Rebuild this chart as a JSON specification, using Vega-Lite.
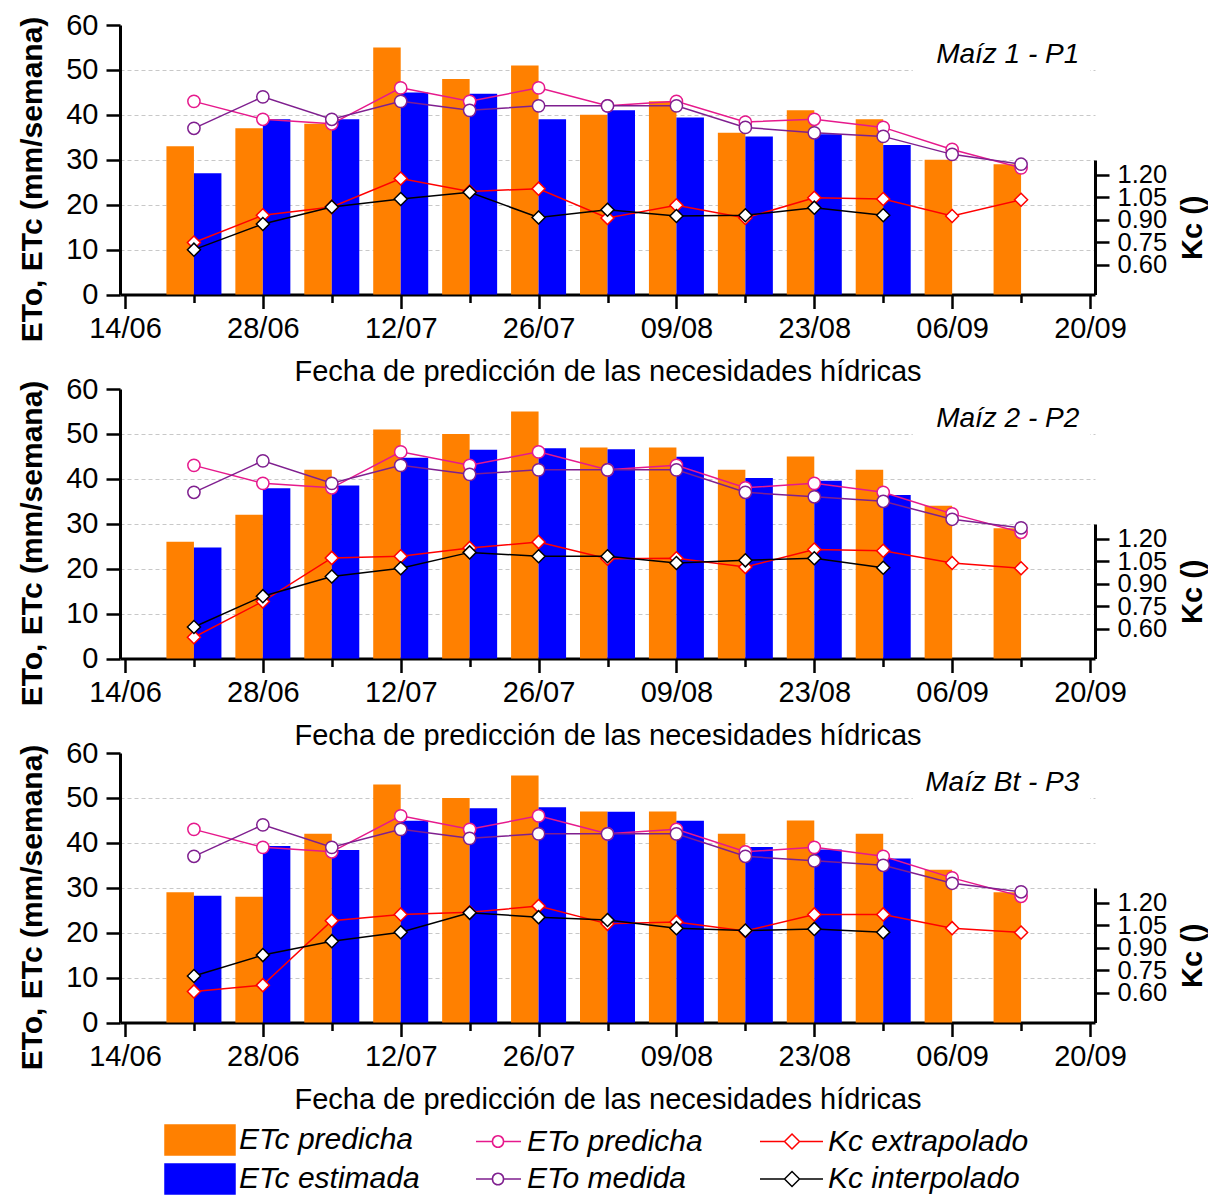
{
  "$schema": "https://vega.github.io/schema/vega-lite/v6.json",
  "background": "white",
  "padding": {"left": 17, "top": 11, "right": 0, "bottom": 0},
  "bounds": "flush",
  "spacing": 94,
  "config": {
    "view": {"stroke": null},
    "font": "Liberation Sans",
    "axis": {
      "labelFont": "Liberation Sans", "labelFontSize": 29, "labelColor": "black",
      "titleFont": "Liberation Sans", "titleFontSize": 29, "titleColor": "black", "titleFontWeight": "normal",
      "domainColor": "black", "domainWidth": 3, "tickColor": "black", "tickWidth": 2.5,
      "gridColor": "#c8c8c8", "gridDash": [4, 3], "gridWidth": 1, "labelFlush": false, "labelOverlap": false, "zindex": 1
    }
  },
  "datasets": {
    "etiquetas": [
      {"p": 1, "texto": "Maíz 1 - P1"},
      {"p": 2, "texto": "Maíz 2 - P2"},
      {"p": 3, "texto": "Maíz Bt - P3"}
    ],
    "d": [
      {"p": 1, "fecha": "2011-06-21", "etcp": 33, "etce": 27, "etop": 43, "etom": 37, "kce": 0.748, "kci": 0.700},
      {"p": 1, "fecha": "2011-06-28", "etcp": 37, "etce": 39, "etop": 39, "etom": 44, "kce": 0.930, "kci": 0.872},
      {"p": 1, "fecha": "2011-07-05", "etcp": 38, "etce": 39, "etop": 38, "etom": 39, "kce": 0.986, "kci": 0.986},
      {"p": 1, "fecha": "2011-07-12", "etcp": 55, "etce": 45, "etop": 46, "etom": 43, "kce": 1.176, "kci": 1.039},
      {"p": 1, "fecha": "2011-07-19", "etcp": 48, "etce": 44.7, "etop": 43, "etom": 41, "kce": 1.089, "kci": 1.084},
      {"p": 1, "fecha": "2011-07-26", "etcp": 51, "etce": 39, "etop": 46, "etom": 42, "kce": 1.108, "kci": 0.915},
      {"p": 1, "fecha": "2011-08-02", "etcp": 40, "etce": 41, "etop": 42, "etom": 42, "kce": 0.912, "kci": 0.967},
      {"p": 1, "fecha": "2011-08-09", "etcp": 43, "etce": 39.4, "etop": 43, "etom": 42, "kce": 0.997, "kci": 0.925},
      {"p": 1, "fecha": "2011-08-16", "etcp": 36, "etce": 35.2, "etop": 38.4, "etom": 37.2, "kce": 0.912, "kci": 0.930},
      {"p": 1, "fecha": "2011-08-23", "etcp": 41, "etce": 35.7, "etop": 39, "etom": 36, "kce": 1.047, "kci": 0.981},
      {"p": 1, "fecha": "2011-08-30", "etcp": 39, "etce": 33.3, "etop": 37.2, "etom": 35.2, "kce": 1.039, "kci": 0.930},
      {"p": 1, "fecha": "2011-09-06", "etcp": 30, "etce": null, "etop": 32.3, "etom": 31.2, "kce": 0.925, "kci": null},
      {"p": 1, "fecha": "2011-09-13", "etcp": 29, "etce": null, "etop": 28.2, "etom": 29, "kce": 1.034, "kci": null},
      {"p": 2, "fecha": "2011-06-21", "etcp": 26, "etce": 24.7, "etop": 43, "etom": 37, "kce": 0.542, "kci": 0.611},
      {"p": 2, "fecha": "2011-06-28", "etcp": 32, "etce": 37.9, "etop": 39, "etom": 44, "kce": 0.782, "kci": 0.817},
      {"p": 2, "fecha": "2011-07-05", "etcp": 42, "etce": 38.5, "etop": 38, "etom": 39, "kce": 1.073, "kci": 0.949},
      {"p": 2, "fecha": "2011-07-12", "etcp": 51, "etce": 44.7, "etop": 46, "etom": 43, "kce": 1.084, "kci": 1.004},
      {"p": 2, "fecha": "2011-07-19", "etcp": 50, "etce": 46.5, "etop": 43, "etom": 41, "kce": 1.139, "kci": 1.110},
      {"p": 2, "fecha": "2011-07-26", "etcp": 55, "etce": 46.8, "etop": 46, "etom": 42, "kce": 1.179, "kci": 1.084},
      {"p": 2, "fecha": "2011-08-02", "etcp": 47, "etce": 46.6, "etop": 42, "etom": 42, "kce": 1.068, "kci": 1.084},
      {"p": 2, "fecha": "2011-08-09", "etcp": 47, "etce": 44.9, "etop": 43, "etom": 42, "kce": 1.071, "kci": 1.039},
      {"p": 2, "fecha": "2011-08-16", "etcp": 42, "etce": 40.2, "etop": 38, "etom": 37, "kce": 1.012, "kci": 1.057},
      {"p": 2, "fecha": "2011-08-23", "etcp": 45, "etce": 39.6, "etop": 39, "etom": 36, "kce": 1.129, "kci": 1.071},
      {"p": 2, "fecha": "2011-08-30", "etcp": 42, "etce": 36.4, "etop": 37, "etom": 35, "kce": 1.121, "kci": 1.007},
      {"p": 2, "fecha": "2011-09-06", "etcp": 34, "etce": null, "etop": 32.2, "etom": 31, "kce": 1.039, "kci": null},
      {"p": 2, "fecha": "2011-09-13", "etcp": 29, "etce": null, "etop": 28.1, "etom": 29.1, "kce": 1.004, "kci": null},
      {"p": 3, "fecha": "2011-06-21", "etcp": 29, "etce": 28.2, "etop": 43, "etom": 37, "kce": 0.608, "kci": 0.711},
      {"p": 3, "fecha": "2011-06-28", "etcp": 28, "etce": 39.3, "etop": 39, "etom": 44, "kce": 0.650, "kci": 0.851},
      {"p": 3, "fecha": "2011-07-05", "etcp": 42, "etce": 38.4, "etop": 38, "etom": 39, "kce": 1.081, "kci": 0.944},
      {"p": 3, "fecha": "2011-07-12", "etcp": 53, "etce": 44.9, "etop": 46, "etom": 43, "kce": 1.123, "kci": 1.004},
      {"p": 3, "fecha": "2011-07-19", "etcp": 50, "etce": 47.7, "etop": 43, "etom": 41, "kce": 1.137, "kci": 1.134},
      {"p": 3, "fecha": "2011-07-26", "etcp": 55, "etce": 47.9, "etop": 46, "etom": 42, "kce": 1.179, "kci": 1.105},
      {"p": 3, "fecha": "2011-08-02", "etcp": 47, "etce": 46.9, "etop": 42, "etom": 42, "kce": 1.060, "kci": 1.086},
      {"p": 3, "fecha": "2011-08-09", "etcp": 47, "etce": 44.9, "etop": 43, "etom": 42, "kce": 1.073, "kci": 1.031},
      {"p": 3, "fecha": "2011-08-16", "etcp": 42, "etce": 39.1, "etop": 38, "etom": 37, "kce": 1.012, "kci": 1.015},
      {"p": 3, "fecha": "2011-08-23", "etcp": 45, "etce": 38.5, "etop": 39, "etom": 36, "kce": 1.123, "kci": 1.026},
      {"p": 3, "fecha": "2011-08-30", "etcp": 42, "etce": 36.5, "etop": 37, "etom": 35, "kce": 1.123, "kci": 1.004},
      {"p": 3, "fecha": "2011-09-06", "etcp": 34, "etce": null, "etop": 32.2, "etom": 31, "kce": 1.031, "kci": null},
      {"p": 3, "fecha": "2011-09-13", "etcp": 29, "etce": null, "etop": 28.1, "etom": 29.1, "kce": 1.002, "kci": null}
    ]
  },
  "vconcat": [
    {
      "width": 975, "height": 269.5,
      "layer": [
        {"layer": [
          {"data": {"name": "d"}, "transform": [{"filter": "datum.p == 1"}],
           "layer": [
            {"mark": {"type": "bar", "width": 27.5, "xOffset": -13.75, "fill": "#ff8000", "strokeWidth": 0},
             "encoding": {
               "x": {"field": "fecha", "type": "temporal", "title": "Fecha de predicción de las necesidades hídricas",
                     "scale": {"type": "utc", "domain": [{"year": 2011, "month": 6, "date": 14, "utc": true}, {"year": 2011, "month": 9, "date": 20, "utc": true}]},
                     "axis": {"values": [{"year": 2011, "month": 6, "date": 14, "utc": true}, {"year": 2011, "month": 6, "date": 21, "utc": true}, {"year": 2011, "month": 6, "date": 28, "utc": true}, {"year": 2011, "month": 7, "date": 5, "utc": true}, {"year": 2011, "month": 7, "date": 12, "utc": true}, {"year": 2011, "month": 7, "date": 19, "utc": true}, {"year": 2011, "month": 7, "date": 26, "utc": true}, {"year": 2011, "month": 8, "date": 2, "utc": true}, {"year": 2011, "month": 8, "date": 9, "utc": true}, {"year": 2011, "month": 8, "date": 16, "utc": true}, {"year": 2011, "month": 8, "date": 23, "utc": true}, {"year": 2011, "month": 8, "date": 30, "utc": true}, {"year": 2011, "month": 9, "date": 6, "utc": true}, {"year": 2011, "month": 9, "date": 13, "utc": true}, {"year": 2011, "month": 9, "date": 20, "utc": true}],
                              "labelExpr": "round((datum.value - utc(2011,5,14)) / 604800000) % 2 == 0 ? utcFormat(datum.value, '%d/%m') : ''",
                              "tickSize": {"condition": {"test": "round((datum.value - utc(2011,5,14)) / 604800000) % 2 == 0", "value": 14}, "value": 8},
                              "grid": false, "labelOverlap": false, "labelPadding": 6, "titlePadding": 14}},
               "y": {"field": "etcp", "type": "quantitative", "scale": {"domain": [0, 60]},
                     "axis": {"values": [0, 5, 10, 15, 20, 25, 30, 35, 40, 45, 50, 55, 60],
                              "labelExpr": "datum.value % 10 == 0 ? datum.label : ''",
                              "tickSize": {"condition": {"test": "datum.value % 10 == 0", "value": 14}, "value": 8},
                              "grid": true, "gridOpacity": {"condition": {"test": "datum.value == 60 || datum.value == 0", "value": 0}, "value": 1},
                              "labelOverlap": false, "title": "ETo, ETc (mm/semana)", "titleFontWeight": "bold", "titleFontSize": 30, "titlePadding": 18, "titleY": 154, "labelPadding": 8}},
               "stroke": {"datum": "ETc predicha", "type": "nominal",
                         "scale": {"domain": ["ETc predicha", "ETo predicha", "Kc extrapolado", "ETc estimada", "ETo medida", "Kc interpolado"], "range": ["#ff8000", "#e6198c", "#ff0000", "#0000ff", "#7f1f8f", "#000000"]},
                         "legend": {"title": null, "orient": "none", "legendX": 84, "legendY": 1099, "columns": 3, "direction": "horizontal", "symbolSize": 900, "symbolStrokeWidth": 1.5, "labelFont": "Liberation Sans", "labelFontSize": 30, "labelFontStyle": "italic", "labelColor": "black", "labelLimit": 500, "labelOffset": 3, "columnPadding": 53, "rowPadding": 3, "padding": 0, "encode": {"symbols": {"update": {"shape": {"signal": "indexof(['ETc predicha','ETc estimada'], datum.value) >= 0 ? 'M-3.667,-1L1,-1L1,1L-3.667,1Z' : indexof(['ETo predicha','ETo medida'], datum.value) >= 0 ? 'M-2.133,0L-1.033,0M-0.3,0L0.867,0M-1.033,0A0.367,0.367 0 1,1 -0.3,0A0.367,0.367 0 1,1 -1.033,0Z' : 'M-3.267,0L-1.633,0M-0.633,0L0.933,0M-1.633,0L-1.133,-0.5L-0.633,0L-1.133,0.5Z'"}, "fill": {"signal": "datum.value == 'ETc predicha' ? '#ff8000' : datum.value == 'ETc estimada' ? '#0000ff' : 'white'"}, "strokeWidth": {"value": 1.5}, "opacity": {"value": 1}, "fillOpacity": {"value": 1}, "strokeOpacity": {"value": 1}}}}}}
             }},
            {"mark": {"type": "bar", "width": 27.5, "xOffset": 13.75, "fill": "#0000ff", "strokeWidth": 0},
             "encoding": {"x": {"field": "fecha", "type": "temporal"}, "y": {"field": "etce", "type": "quantitative"},
                          "stroke": {"datum": "ETc estimada", "type": "nominal", "legend": {"title": null, "orient": "none", "legendX": 84, "legendY": 1099, "columns": 3, "direction": "horizontal", "symbolSize": 900, "symbolStrokeWidth": 1.5, "labelFont": "Liberation Sans", "labelFontSize": 30, "labelFontStyle": "italic", "labelColor": "black", "labelLimit": 500, "labelOffset": 3, "columnPadding": 53, "rowPadding": 3, "padding": 0, "encode": {"symbols": {"update": {"shape": {"signal": "indexof(['ETc predicha','ETc estimada'], datum.value) >= 0 ? 'M-3.667,-1L1,-1L1,1L-3.667,1Z' : indexof(['ETo predicha','ETo medida'], datum.value) >= 0 ? 'M-2.133,0L-1.033,0M-0.3,0L0.867,0M-1.033,0A0.367,0.367 0 1,1 -0.3,0A0.367,0.367 0 1,1 -1.033,0Z' : 'M-3.267,0L-1.633,0M-0.633,0L0.933,0M-1.633,0L-1.133,-0.5L-0.633,0L-1.133,0.5Z'"}, "fill": {"signal": "datum.value == 'ETc predicha' ? '#ff8000' : datum.value == 'ETc estimada' ? '#0000ff' : 'white'"}, "strokeWidth": {"value": 1.5}, "opacity": {"value": 1}, "fillOpacity": {"value": 1}, "strokeOpacity": {"value": 1}}}}}}}},
            {"mark": {"type": "line", "strokeWidth": 1.5, "point": {"filled": false, "fill": "white", "size": 150, "strokeWidth": 1.5}},
             "encoding": {"x": {"field": "fecha", "type": "temporal"}, "y": {"field": "etop", "type": "quantitative"},
                          "stroke": {"datum": "ETo predicha", "type": "nominal", "legend": {"title": null, "orient": "none", "legendX": 84, "legendY": 1099, "columns": 3, "direction": "horizontal", "symbolSize": 900, "symbolStrokeWidth": 1.5, "labelFont": "Liberation Sans", "labelFontSize": 30, "labelFontStyle": "italic", "labelColor": "black", "labelLimit": 500, "labelOffset": 3, "columnPadding": 53, "rowPadding": 3, "padding": 0, "encode": {"symbols": {"update": {"shape": {"signal": "indexof(['ETc predicha','ETc estimada'], datum.value) >= 0 ? 'M-3.667,-1L1,-1L1,1L-3.667,1Z' : indexof(['ETo predicha','ETo medida'], datum.value) >= 0 ? 'M-2.133,0L-1.033,0M-0.3,0L0.867,0M-1.033,0A0.367,0.367 0 1,1 -0.3,0A0.367,0.367 0 1,1 -1.033,0Z' : 'M-3.267,0L-1.633,0M-0.633,0L0.933,0M-1.633,0L-1.133,-0.5L-0.633,0L-1.133,0.5Z'"}, "fill": {"signal": "datum.value == 'ETc predicha' ? '#ff8000' : datum.value == 'ETc estimada' ? '#0000ff' : 'white'"}, "strokeWidth": {"value": 1.5}, "opacity": {"value": 1}, "fillOpacity": {"value": 1}, "strokeOpacity": {"value": 1}}}}}}}},
            {"mark": {"type": "line", "strokeWidth": 1.5, "point": {"filled": false, "fill": "white", "size": 150, "strokeWidth": 1.5}},
             "encoding": {"x": {"field": "fecha", "type": "temporal"}, "y": {"field": "etom", "type": "quantitative"},
                          "stroke": {"datum": "ETo medida", "type": "nominal", "legend": {"title": null, "orient": "none", "legendX": 84, "legendY": 1099, "columns": 3, "direction": "horizontal", "symbolSize": 900, "symbolStrokeWidth": 1.5, "labelFont": "Liberation Sans", "labelFontSize": 30, "labelFontStyle": "italic", "labelColor": "black", "labelLimit": 500, "labelOffset": 3, "columnPadding": 53, "rowPadding": 3, "padding": 0, "encode": {"symbols": {"update": {"shape": {"signal": "indexof(['ETc predicha','ETc estimada'], datum.value) >= 0 ? 'M-3.667,-1L1,-1L1,1L-3.667,1Z' : indexof(['ETo predicha','ETo medida'], datum.value) >= 0 ? 'M-2.133,0L-1.033,0M-0.3,0L0.867,0M-1.033,0A0.367,0.367 0 1,1 -0.3,0A0.367,0.367 0 1,1 -1.033,0Z' : 'M-3.267,0L-1.633,0M-0.633,0L0.933,0M-1.633,0L-1.133,-0.5L-0.633,0L-1.133,0.5Z'"}, "fill": {"signal": "datum.value == 'ETc predicha' ? '#ff8000' : datum.value == 'ETc estimada' ? '#0000ff' : 'white'"}, "strokeWidth": {"value": 1.5}, "opacity": {"value": 1}, "fillOpacity": {"value": 1}, "strokeOpacity": {"value": 1}}}}}}}}
          ]},
          {"data": {"name": "etiquetas"}, "transform": [{"filter": "datum.p == 1"}],
           "layer": [
            {"mark": {"type": "rect", "fill": "white"},
             "encoding": {"x": {"datum": {"year": 2011, "month": 9, "date": 2, "utc": true}, "type": "temporal"}, "x2": {"datum": {"year": 2011, "month": 9, "date": 20, "utc": true}},
                          "y": {"datum": 46.5, "type": "quantitative"}, "y2": {"datum": 58.5}}},
            {"mark": {"type": "text", "align": "right", "baseline": "middle", "font": "Liberation Sans", "fontSize": 28, "fontStyle": "italic", "color": "black"},
             "encoding": {"x": {"datum": {"year": 2011, "month": 9, "date": 18, "hours": 22, "utc": true}, "type": "temporal"}, "y": {"datum": 53.3, "type": "quantitative"}, "text": {"field": "texto"}}}
          ]}
        ]},
        {"data": {"name": "d"}, "transform": [{"filter": "datum.p == 1"}],
         "layer": [
          {"mark": {"type": "line", "strokeWidth": 1.5, "point": {"shape": "diamond", "filled": false, "fill": "white", "size": 170, "strokeWidth": 1.5}},
           "encoding": {"x": {"field": "fecha", "type": "temporal"},
                        "y": {"field": "kce", "type": "quantitative", "scale": {"domain": [0.46, 1.25], "range": [269.5, 135], "zero": false},
                              "axis": {"orient": "right", "values": [0.6, 0.75, 0.9, 1.05, 1.2], "format": ".2f", "tickSize": 14, "labelFontSize": 25.5,
                                       "labelOverlap": false, "grid": false, "title": "Kc ()", "titleFontWeight": "bold", "titleAngle": 270, "titleBaseline": "top", "titlePadding": 12, "labelPadding": 8}},
                        "stroke": {"datum": "Kc extrapolado", "type": "nominal", "legend": {"title": null, "orient": "none", "legendX": 84, "legendY": 1099, "columns": 3, "direction": "horizontal", "symbolSize": 900, "symbolStrokeWidth": 1.5, "labelFont": "Liberation Sans", "labelFontSize": 30, "labelFontStyle": "italic", "labelColor": "black", "labelLimit": 500, "labelOffset": 3, "columnPadding": 53, "rowPadding": 3, "padding": 0, "encode": {"symbols": {"update": {"shape": {"signal": "indexof(['ETc predicha','ETc estimada'], datum.value) >= 0 ? 'M-3.667,-1L1,-1L1,1L-3.667,1Z' : indexof(['ETo predicha','ETo medida'], datum.value) >= 0 ? 'M-2.133,0L-1.033,0M-0.3,0L0.867,0M-1.033,0A0.367,0.367 0 1,1 -0.3,0A0.367,0.367 0 1,1 -1.033,0Z' : 'M-3.267,0L-1.633,0M-0.633,0L0.933,0M-1.633,0L-1.133,-0.5L-0.633,0L-1.133,0.5Z'"}, "fill": {"signal": "datum.value == 'ETc predicha' ? '#ff8000' : datum.value == 'ETc estimada' ? '#0000ff' : 'white'"}, "strokeWidth": {"value": 1.5}, "opacity": {"value": 1}, "fillOpacity": {"value": 1}, "strokeOpacity": {"value": 1}}}}}}}},
          {"mark": {"type": "line", "strokeWidth": 1.5, "point": {"shape": "diamond", "filled": false, "fill": "white", "size": 170, "strokeWidth": 1.5}},
           "encoding": {"x": {"field": "fecha", "type": "temporal"}, "y": {"field": "kci", "type": "quantitative"},
                        "stroke": {"datum": "Kc interpolado", "type": "nominal", "legend": {"title": null, "orient": "none", "legendX": 84, "legendY": 1099, "columns": 3, "direction": "horizontal", "symbolSize": 900, "symbolStrokeWidth": 1.5, "labelFont": "Liberation Sans", "labelFontSize": 30, "labelFontStyle": "italic", "labelColor": "black", "labelLimit": 500, "labelOffset": 3, "columnPadding": 53, "rowPadding": 3, "padding": 0, "encode": {"symbols": {"update": {"shape": {"signal": "indexof(['ETc predicha','ETc estimada'], datum.value) >= 0 ? 'M-3.667,-1L1,-1L1,1L-3.667,1Z' : indexof(['ETo predicha','ETo medida'], datum.value) >= 0 ? 'M-2.133,0L-1.033,0M-0.3,0L0.867,0M-1.033,0A0.367,0.367 0 1,1 -0.3,0A0.367,0.367 0 1,1 -1.033,0Z' : 'M-3.267,0L-1.633,0M-0.633,0L0.933,0M-1.633,0L-1.133,-0.5L-0.633,0L-1.133,0.5Z'"}, "fill": {"signal": "datum.value == 'ETc predicha' ? '#ff8000' : datum.value == 'ETc estimada' ? '#0000ff' : 'white'"}, "strokeWidth": {"value": 1.5}, "opacity": {"value": 1}, "fillOpacity": {"value": 1}, "strokeOpacity": {"value": 1}}}}}}}}
        ]}
      ],
      "resolve": {"scale": {"y": "independent"}}
    },
    {
      "width": 975, "height": 269.5,
      "layer": [
        {"layer": [
          {"data": {"name": "d"}, "transform": [{"filter": "datum.p == 2"}],
           "layer": [
            {"mark": {"type": "bar", "width": 27.5, "xOffset": -13.75, "fill": "#ff8000", "strokeWidth": 0},
             "encoding": {
               "x": {"field": "fecha", "type": "temporal", "title": "Fecha de predicción de las necesidades hídricas",
                     "scale": {"type": "utc", "domain": [{"year": 2011, "month": 6, "date": 14, "utc": true}, {"year": 2011, "month": 9, "date": 20, "utc": true}]},
                     "axis": {"values": [{"year": 2011, "month": 6, "date": 14, "utc": true}, {"year": 2011, "month": 6, "date": 21, "utc": true}, {"year": 2011, "month": 6, "date": 28, "utc": true}, {"year": 2011, "month": 7, "date": 5, "utc": true}, {"year": 2011, "month": 7, "date": 12, "utc": true}, {"year": 2011, "month": 7, "date": 19, "utc": true}, {"year": 2011, "month": 7, "date": 26, "utc": true}, {"year": 2011, "month": 8, "date": 2, "utc": true}, {"year": 2011, "month": 8, "date": 9, "utc": true}, {"year": 2011, "month": 8, "date": 16, "utc": true}, {"year": 2011, "month": 8, "date": 23, "utc": true}, {"year": 2011, "month": 8, "date": 30, "utc": true}, {"year": 2011, "month": 9, "date": 6, "utc": true}, {"year": 2011, "month": 9, "date": 13, "utc": true}, {"year": 2011, "month": 9, "date": 20, "utc": true}],
                              "labelExpr": "round((datum.value - utc(2011,5,14)) / 604800000) % 2 == 0 ? utcFormat(datum.value, '%d/%m') : ''",
                              "tickSize": {"condition": {"test": "round((datum.value - utc(2011,5,14)) / 604800000) % 2 == 0", "value": 14}, "value": 8},
                              "grid": false, "labelOverlap": false, "labelPadding": 6, "titlePadding": 14}},
               "y": {"field": "etcp", "type": "quantitative", "scale": {"domain": [0, 60]},
                     "axis": {"values": [0, 5, 10, 15, 20, 25, 30, 35, 40, 45, 50, 55, 60],
                              "labelExpr": "datum.value % 10 == 0 ? datum.label : ''",
                              "tickSize": {"condition": {"test": "datum.value % 10 == 0", "value": 14}, "value": 8},
                              "grid": true, "gridOpacity": {"condition": {"test": "datum.value == 60 || datum.value == 0", "value": 0}, "value": 1},
                              "labelOverlap": false, "title": "ETo, ETc (mm/semana)", "titleFontWeight": "bold", "titleFontSize": 30, "titlePadding": 18, "titleY": 154, "labelPadding": 8}},
               "stroke": {"datum": "ETc predicha", "type": "nominal", "legend": {"title": null, "orient": "none", "legendX": 84, "legendY": 1099, "columns": 3, "direction": "horizontal", "symbolSize": 900, "symbolStrokeWidth": 1.5, "labelFont": "Liberation Sans", "labelFontSize": 30, "labelFontStyle": "italic", "labelColor": "black", "labelLimit": 500, "labelOffset": 3, "columnPadding": 53, "rowPadding": 3, "padding": 0, "encode": {"symbols": {"update": {"shape": {"signal": "indexof(['ETc predicha','ETc estimada'], datum.value) >= 0 ? 'M-3.667,-1L1,-1L1,1L-3.667,1Z' : indexof(['ETo predicha','ETo medida'], datum.value) >= 0 ? 'M-2.133,0L-1.033,0M-0.3,0L0.867,0M-1.033,0A0.367,0.367 0 1,1 -0.3,0A0.367,0.367 0 1,1 -1.033,0Z' : 'M-3.267,0L-1.633,0M-0.633,0L0.933,0M-1.633,0L-1.133,-0.5L-0.633,0L-1.133,0.5Z'"}, "fill": {"signal": "datum.value == 'ETc predicha' ? '#ff8000' : datum.value == 'ETc estimada' ? '#0000ff' : 'white'"}, "strokeWidth": {"value": 1.5}, "opacity": {"value": 1}, "fillOpacity": {"value": 1}, "strokeOpacity": {"value": 1}}}}}}
             }},
            {"mark": {"type": "bar", "width": 27.5, "xOffset": 13.75, "fill": "#0000ff", "strokeWidth": 0},
             "encoding": {"x": {"field": "fecha", "type": "temporal"}, "y": {"field": "etce", "type": "quantitative"},
                          "stroke": {"datum": "ETc estimada", "type": "nominal", "legend": {"title": null, "orient": "none", "legendX": 84, "legendY": 1099, "columns": 3, "direction": "horizontal", "symbolSize": 900, "symbolStrokeWidth": 1.5, "labelFont": "Liberation Sans", "labelFontSize": 30, "labelFontStyle": "italic", "labelColor": "black", "labelLimit": 500, "labelOffset": 3, "columnPadding": 53, "rowPadding": 3, "padding": 0, "encode": {"symbols": {"update": {"shape": {"signal": "indexof(['ETc predicha','ETc estimada'], datum.value) >= 0 ? 'M-3.667,-1L1,-1L1,1L-3.667,1Z' : indexof(['ETo predicha','ETo medida'], datum.value) >= 0 ? 'M-2.133,0L-1.033,0M-0.3,0L0.867,0M-1.033,0A0.367,0.367 0 1,1 -0.3,0A0.367,0.367 0 1,1 -1.033,0Z' : 'M-3.267,0L-1.633,0M-0.633,0L0.933,0M-1.633,0L-1.133,-0.5L-0.633,0L-1.133,0.5Z'"}, "fill": {"signal": "datum.value == 'ETc predicha' ? '#ff8000' : datum.value == 'ETc estimada' ? '#0000ff' : 'white'"}, "strokeWidth": {"value": 1.5}, "opacity": {"value": 1}, "fillOpacity": {"value": 1}, "strokeOpacity": {"value": 1}}}}}}}},
            {"mark": {"type": "line", "strokeWidth": 1.5, "point": {"filled": false, "fill": "white", "size": 150, "strokeWidth": 1.5}},
             "encoding": {"x": {"field": "fecha", "type": "temporal"}, "y": {"field": "etop", "type": "quantitative"},
                          "stroke": {"datum": "ETo predicha", "type": "nominal", "legend": {"title": null, "orient": "none", "legendX": 84, "legendY": 1099, "columns": 3, "direction": "horizontal", "symbolSize": 900, "symbolStrokeWidth": 1.5, "labelFont": "Liberation Sans", "labelFontSize": 30, "labelFontStyle": "italic", "labelColor": "black", "labelLimit": 500, "labelOffset": 3, "columnPadding": 53, "rowPadding": 3, "padding": 0, "encode": {"symbols": {"update": {"shape": {"signal": "indexof(['ETc predicha','ETc estimada'], datum.value) >= 0 ? 'M-3.667,-1L1,-1L1,1L-3.667,1Z' : indexof(['ETo predicha','ETo medida'], datum.value) >= 0 ? 'M-2.133,0L-1.033,0M-0.3,0L0.867,0M-1.033,0A0.367,0.367 0 1,1 -0.3,0A0.367,0.367 0 1,1 -1.033,0Z' : 'M-3.267,0L-1.633,0M-0.633,0L0.933,0M-1.633,0L-1.133,-0.5L-0.633,0L-1.133,0.5Z'"}, "fill": {"signal": "datum.value == 'ETc predicha' ? '#ff8000' : datum.value == 'ETc estimada' ? '#0000ff' : 'white'"}, "strokeWidth": {"value": 1.5}, "opacity": {"value": 1}, "fillOpacity": {"value": 1}, "strokeOpacity": {"value": 1}}}}}}}},
            {"mark": {"type": "line", "strokeWidth": 1.5, "point": {"filled": false, "fill": "white", "size": 150, "strokeWidth": 1.5}},
             "encoding": {"x": {"field": "fecha", "type": "temporal"}, "y": {"field": "etom", "type": "quantitative"},
                          "stroke": {"datum": "ETo medida", "type": "nominal", "legend": {"title": null, "orient": "none", "legendX": 84, "legendY": 1099, "columns": 3, "direction": "horizontal", "symbolSize": 900, "symbolStrokeWidth": 1.5, "labelFont": "Liberation Sans", "labelFontSize": 30, "labelFontStyle": "italic", "labelColor": "black", "labelLimit": 500, "labelOffset": 3, "columnPadding": 53, "rowPadding": 3, "padding": 0, "encode": {"symbols": {"update": {"shape": {"signal": "indexof(['ETc predicha','ETc estimada'], datum.value) >= 0 ? 'M-3.667,-1L1,-1L1,1L-3.667,1Z' : indexof(['ETo predicha','ETo medida'], datum.value) >= 0 ? 'M-2.133,0L-1.033,0M-0.3,0L0.867,0M-1.033,0A0.367,0.367 0 1,1 -0.3,0A0.367,0.367 0 1,1 -1.033,0Z' : 'M-3.267,0L-1.633,0M-0.633,0L0.933,0M-1.633,0L-1.133,-0.5L-0.633,0L-1.133,0.5Z'"}, "fill": {"signal": "datum.value == 'ETc predicha' ? '#ff8000' : datum.value == 'ETc estimada' ? '#0000ff' : 'white'"}, "strokeWidth": {"value": 1.5}, "opacity": {"value": 1}, "fillOpacity": {"value": 1}, "strokeOpacity": {"value": 1}}}}}}}}
          ]},
          {"data": {"name": "etiquetas"}, "transform": [{"filter": "datum.p == 2"}],
           "layer": [
            {"mark": {"type": "rect", "fill": "white"},
             "encoding": {"x": {"datum": {"year": 2011, "month": 9, "date": 2, "utc": true}, "type": "temporal"}, "x2": {"datum": {"year": 2011, "month": 9, "date": 20, "utc": true}},
                          "y": {"datum": 46.5, "type": "quantitative"}, "y2": {"datum": 58.5}}},
            {"mark": {"type": "text", "align": "right", "baseline": "middle", "font": "Liberation Sans", "fontSize": 28, "fontStyle": "italic", "color": "black"},
             "encoding": {"x": {"datum": {"year": 2011, "month": 9, "date": 18, "hours": 22, "utc": true}, "type": "temporal"}, "y": {"datum": 53.3, "type": "quantitative"}, "text": {"field": "texto"}}}
          ]}
        ]},
        {"data": {"name": "d"}, "transform": [{"filter": "datum.p == 2"}],
         "layer": [
          {"mark": {"type": "line", "strokeWidth": 1.5, "point": {"shape": "diamond", "filled": false, "fill": "white", "size": 170, "strokeWidth": 1.5}},
           "encoding": {"x": {"field": "fecha", "type": "temporal"},
                        "y": {"field": "kce", "type": "quantitative", "scale": {"domain": [0.46, 1.25], "range": [269.5, 135], "zero": false},
                              "axis": {"orient": "right", "values": [0.6, 0.75, 0.9, 1.05, 1.2], "format": ".2f", "tickSize": 14, "labelFontSize": 25.5,
                                       "labelOverlap": false, "grid": false, "title": "Kc ()", "titleFontWeight": "bold", "titleAngle": 270, "titleBaseline": "top", "titlePadding": 12, "labelPadding": 8}},
                        "stroke": {"datum": "Kc extrapolado", "type": "nominal", "legend": {"title": null, "orient": "none", "legendX": 84, "legendY": 1099, "columns": 3, "direction": "horizontal", "symbolSize": 900, "symbolStrokeWidth": 1.5, "labelFont": "Liberation Sans", "labelFontSize": 30, "labelFontStyle": "italic", "labelColor": "black", "labelLimit": 500, "labelOffset": 3, "columnPadding": 53, "rowPadding": 3, "padding": 0, "encode": {"symbols": {"update": {"shape": {"signal": "indexof(['ETc predicha','ETc estimada'], datum.value) >= 0 ? 'M-3.667,-1L1,-1L1,1L-3.667,1Z' : indexof(['ETo predicha','ETo medida'], datum.value) >= 0 ? 'M-2.133,0L-1.033,0M-0.3,0L0.867,0M-1.033,0A0.367,0.367 0 1,1 -0.3,0A0.367,0.367 0 1,1 -1.033,0Z' : 'M-3.267,0L-1.633,0M-0.633,0L0.933,0M-1.633,0L-1.133,-0.5L-0.633,0L-1.133,0.5Z'"}, "fill": {"signal": "datum.value == 'ETc predicha' ? '#ff8000' : datum.value == 'ETc estimada' ? '#0000ff' : 'white'"}, "strokeWidth": {"value": 1.5}, "opacity": {"value": 1}, "fillOpacity": {"value": 1}, "strokeOpacity": {"value": 1}}}}}}}},
          {"mark": {"type": "line", "strokeWidth": 1.5, "point": {"shape": "diamond", "filled": false, "fill": "white", "size": 170, "strokeWidth": 1.5}},
           "encoding": {"x": {"field": "fecha", "type": "temporal"}, "y": {"field": "kci", "type": "quantitative"},
                        "stroke": {"datum": "Kc interpolado", "type": "nominal", "legend": {"title": null, "orient": "none", "legendX": 84, "legendY": 1099, "columns": 3, "direction": "horizontal", "symbolSize": 900, "symbolStrokeWidth": 1.5, "labelFont": "Liberation Sans", "labelFontSize": 30, "labelFontStyle": "italic", "labelColor": "black", "labelLimit": 500, "labelOffset": 3, "columnPadding": 53, "rowPadding": 3, "padding": 0, "encode": {"symbols": {"update": {"shape": {"signal": "indexof(['ETc predicha','ETc estimada'], datum.value) >= 0 ? 'M-3.667,-1L1,-1L1,1L-3.667,1Z' : indexof(['ETo predicha','ETo medida'], datum.value) >= 0 ? 'M-2.133,0L-1.033,0M-0.3,0L0.867,0M-1.033,0A0.367,0.367 0 1,1 -0.3,0A0.367,0.367 0 1,1 -1.033,0Z' : 'M-3.267,0L-1.633,0M-0.633,0L0.933,0M-1.633,0L-1.133,-0.5L-0.633,0L-1.133,0.5Z'"}, "fill": {"signal": "datum.value == 'ETc predicha' ? '#ff8000' : datum.value == 'ETc estimada' ? '#0000ff' : 'white'"}, "strokeWidth": {"value": 1.5}, "opacity": {"value": 1}, "fillOpacity": {"value": 1}, "strokeOpacity": {"value": 1}}}}}}}}
        ]}
      ],
      "resolve": {"scale": {"y": "independent"}}
    },
    {
      "width": 975, "height": 269.5,
      "layer": [
        {"layer": [
          {"data": {"name": "d"}, "transform": [{"filter": "datum.p == 3"}],
           "layer": [
            {"mark": {"type": "bar", "width": 27.5, "xOffset": -13.75, "fill": "#ff8000", "strokeWidth": 0},
             "encoding": {
               "x": {"field": "fecha", "type": "temporal", "title": "Fecha de predicción de las necesidades hídricas",
                     "scale": {"type": "utc", "domain": [{"year": 2011, "month": 6, "date": 14, "utc": true}, {"year": 2011, "month": 9, "date": 20, "utc": true}]},
                     "axis": {"values": [{"year": 2011, "month": 6, "date": 14, "utc": true}, {"year": 2011, "month": 6, "date": 21, "utc": true}, {"year": 2011, "month": 6, "date": 28, "utc": true}, {"year": 2011, "month": 7, "date": 5, "utc": true}, {"year": 2011, "month": 7, "date": 12, "utc": true}, {"year": 2011, "month": 7, "date": 19, "utc": true}, {"year": 2011, "month": 7, "date": 26, "utc": true}, {"year": 2011, "month": 8, "date": 2, "utc": true}, {"year": 2011, "month": 8, "date": 9, "utc": true}, {"year": 2011, "month": 8, "date": 16, "utc": true}, {"year": 2011, "month": 8, "date": 23, "utc": true}, {"year": 2011, "month": 8, "date": 30, "utc": true}, {"year": 2011, "month": 9, "date": 6, "utc": true}, {"year": 2011, "month": 9, "date": 13, "utc": true}, {"year": 2011, "month": 9, "date": 20, "utc": true}],
                              "labelExpr": "round((datum.value - utc(2011,5,14)) / 604800000) % 2 == 0 ? utcFormat(datum.value, '%d/%m') : ''",
                              "tickSize": {"condition": {"test": "round((datum.value - utc(2011,5,14)) / 604800000) % 2 == 0", "value": 14}, "value": 8},
                              "grid": false, "labelOverlap": false, "labelPadding": 6, "titlePadding": 14}},
               "y": {"field": "etcp", "type": "quantitative", "scale": {"domain": [0, 60]},
                     "axis": {"values": [0, 5, 10, 15, 20, 25, 30, 35, 40, 45, 50, 55, 60],
                              "labelExpr": "datum.value % 10 == 0 ? datum.label : ''",
                              "tickSize": {"condition": {"test": "datum.value % 10 == 0", "value": 14}, "value": 8},
                              "grid": true, "gridOpacity": {"condition": {"test": "datum.value == 60 || datum.value == 0", "value": 0}, "value": 1},
                              "labelOverlap": false, "title": "ETo, ETc (mm/semana)", "titleFontWeight": "bold", "titleFontSize": 30, "titlePadding": 18, "titleY": 154, "labelPadding": 8}},
               "stroke": {"datum": "ETc predicha", "type": "nominal", "legend": {"title": null, "orient": "none", "legendX": 84, "legendY": 1099, "columns": 3, "direction": "horizontal", "symbolSize": 900, "symbolStrokeWidth": 1.5, "labelFont": "Liberation Sans", "labelFontSize": 30, "labelFontStyle": "italic", "labelColor": "black", "labelLimit": 500, "labelOffset": 3, "columnPadding": 53, "rowPadding": 3, "padding": 0, "encode": {"symbols": {"update": {"shape": {"signal": "indexof(['ETc predicha','ETc estimada'], datum.value) >= 0 ? 'M-3.667,-1L1,-1L1,1L-3.667,1Z' : indexof(['ETo predicha','ETo medida'], datum.value) >= 0 ? 'M-2.133,0L-1.033,0M-0.3,0L0.867,0M-1.033,0A0.367,0.367 0 1,1 -0.3,0A0.367,0.367 0 1,1 -1.033,0Z' : 'M-3.267,0L-1.633,0M-0.633,0L0.933,0M-1.633,0L-1.133,-0.5L-0.633,0L-1.133,0.5Z'"}, "fill": {"signal": "datum.value == 'ETc predicha' ? '#ff8000' : datum.value == 'ETc estimada' ? '#0000ff' : 'white'"}, "strokeWidth": {"value": 1.5}, "opacity": {"value": 1}, "fillOpacity": {"value": 1}, "strokeOpacity": {"value": 1}}}}}}
             }},
            {"mark": {"type": "bar", "width": 27.5, "xOffset": 13.75, "fill": "#0000ff", "strokeWidth": 0},
             "encoding": {"x": {"field": "fecha", "type": "temporal"}, "y": {"field": "etce", "type": "quantitative"},
                          "stroke": {"datum": "ETc estimada", "type": "nominal", "legend": {"title": null, "orient": "none", "legendX": 84, "legendY": 1099, "columns": 3, "direction": "horizontal", "symbolSize": 900, "symbolStrokeWidth": 1.5, "labelFont": "Liberation Sans", "labelFontSize": 30, "labelFontStyle": "italic", "labelColor": "black", "labelLimit": 500, "labelOffset": 3, "columnPadding": 53, "rowPadding": 3, "padding": 0, "encode": {"symbols": {"update": {"shape": {"signal": "indexof(['ETc predicha','ETc estimada'], datum.value) >= 0 ? 'M-3.667,-1L1,-1L1,1L-3.667,1Z' : indexof(['ETo predicha','ETo medida'], datum.value) >= 0 ? 'M-2.133,0L-1.033,0M-0.3,0L0.867,0M-1.033,0A0.367,0.367 0 1,1 -0.3,0A0.367,0.367 0 1,1 -1.033,0Z' : 'M-3.267,0L-1.633,0M-0.633,0L0.933,0M-1.633,0L-1.133,-0.5L-0.633,0L-1.133,0.5Z'"}, "fill": {"signal": "datum.value == 'ETc predicha' ? '#ff8000' : datum.value == 'ETc estimada' ? '#0000ff' : 'white'"}, "strokeWidth": {"value": 1.5}, "opacity": {"value": 1}, "fillOpacity": {"value": 1}, "strokeOpacity": {"value": 1}}}}}}}},
            {"mark": {"type": "line", "strokeWidth": 1.5, "point": {"filled": false, "fill": "white", "size": 150, "strokeWidth": 1.5}},
             "encoding": {"x": {"field": "fecha", "type": "temporal"}, "y": {"field": "etop", "type": "quantitative"},
                          "stroke": {"datum": "ETo predicha", "type": "nominal", "legend": {"title": null, "orient": "none", "legendX": 84, "legendY": 1099, "columns": 3, "direction": "horizontal", "symbolSize": 900, "symbolStrokeWidth": 1.5, "labelFont": "Liberation Sans", "labelFontSize": 30, "labelFontStyle": "italic", "labelColor": "black", "labelLimit": 500, "labelOffset": 3, "columnPadding": 53, "rowPadding": 3, "padding": 0, "encode": {"symbols": {"update": {"shape": {"signal": "indexof(['ETc predicha','ETc estimada'], datum.value) >= 0 ? 'M-3.667,-1L1,-1L1,1L-3.667,1Z' : indexof(['ETo predicha','ETo medida'], datum.value) >= 0 ? 'M-2.133,0L-1.033,0M-0.3,0L0.867,0M-1.033,0A0.367,0.367 0 1,1 -0.3,0A0.367,0.367 0 1,1 -1.033,0Z' : 'M-3.267,0L-1.633,0M-0.633,0L0.933,0M-1.633,0L-1.133,-0.5L-0.633,0L-1.133,0.5Z'"}, "fill": {"signal": "datum.value == 'ETc predicha' ? '#ff8000' : datum.value == 'ETc estimada' ? '#0000ff' : 'white'"}, "strokeWidth": {"value": 1.5}, "opacity": {"value": 1}, "fillOpacity": {"value": 1}, "strokeOpacity": {"value": 1}}}}}}}},
            {"mark": {"type": "line", "strokeWidth": 1.5, "point": {"filled": false, "fill": "white", "size": 150, "strokeWidth": 1.5}},
             "encoding": {"x": {"field": "fecha", "type": "temporal"}, "y": {"field": "etom", "type": "quantitative"},
                          "stroke": {"datum": "ETo medida", "type": "nominal", "legend": {"title": null, "orient": "none", "legendX": 84, "legendY": 1099, "columns": 3, "direction": "horizontal", "symbolSize": 900, "symbolStrokeWidth": 1.5, "labelFont": "Liberation Sans", "labelFontSize": 30, "labelFontStyle": "italic", "labelColor": "black", "labelLimit": 500, "labelOffset": 3, "columnPadding": 53, "rowPadding": 3, "padding": 0, "encode": {"symbols": {"update": {"shape": {"signal": "indexof(['ETc predicha','ETc estimada'], datum.value) >= 0 ? 'M-3.667,-1L1,-1L1,1L-3.667,1Z' : indexof(['ETo predicha','ETo medida'], datum.value) >= 0 ? 'M-2.133,0L-1.033,0M-0.3,0L0.867,0M-1.033,0A0.367,0.367 0 1,1 -0.3,0A0.367,0.367 0 1,1 -1.033,0Z' : 'M-3.267,0L-1.633,0M-0.633,0L0.933,0M-1.633,0L-1.133,-0.5L-0.633,0L-1.133,0.5Z'"}, "fill": {"signal": "datum.value == 'ETc predicha' ? '#ff8000' : datum.value == 'ETc estimada' ? '#0000ff' : 'white'"}, "strokeWidth": {"value": 1.5}, "opacity": {"value": 1}, "fillOpacity": {"value": 1}, "strokeOpacity": {"value": 1}}}}}}}}
          ]},
          {"data": {"name": "etiquetas"}, "transform": [{"filter": "datum.p == 3"}],
           "layer": [
            {"mark": {"type": "rect", "fill": "white"},
             "encoding": {"x": {"datum": {"year": 2011, "month": 9, "date": 2, "utc": true}, "type": "temporal"}, "x2": {"datum": {"year": 2011, "month": 9, "date": 20, "utc": true}},
                          "y": {"datum": 46.5, "type": "quantitative"}, "y2": {"datum": 58.5}}},
            {"mark": {"type": "text", "align": "right", "baseline": "middle", "font": "Liberation Sans", "fontSize": 28, "fontStyle": "italic", "color": "black"},
             "encoding": {"x": {"datum": {"year": 2011, "month": 9, "date": 18, "hours": 22, "utc": true}, "type": "temporal"}, "y": {"datum": 53.3, "type": "quantitative"}, "text": {"field": "texto"}}}
          ]}
        ]},
        {"data": {"name": "d"}, "transform": [{"filter": "datum.p == 3"}],
         "layer": [
          {"mark": {"type": "line", "strokeWidth": 1.5, "point": {"shape": "diamond", "filled": false, "fill": "white", "size": 170, "strokeWidth": 1.5}},
           "encoding": {"x": {"field": "fecha", "type": "temporal"},
                        "y": {"field": "kce", "type": "quantitative", "scale": {"domain": [0.46, 1.25], "range": [269.5, 135], "zero": false},
                              "axis": {"orient": "right", "values": [0.6, 0.75, 0.9, 1.05, 1.2], "format": ".2f", "tickSize": 14, "labelFontSize": 25.5,
                                       "labelOverlap": false, "grid": false, "title": "Kc ()", "titleFontWeight": "bold", "titleAngle": 270, "titleBaseline": "top", "titlePadding": 12, "labelPadding": 8}},
                        "stroke": {"datum": "Kc extrapolado", "type": "nominal", "legend": {"title": null, "orient": "none", "legendX": 84, "legendY": 1099, "columns": 3, "direction": "horizontal", "symbolSize": 900, "symbolStrokeWidth": 1.5, "labelFont": "Liberation Sans", "labelFontSize": 30, "labelFontStyle": "italic", "labelColor": "black", "labelLimit": 500, "labelOffset": 3, "columnPadding": 53, "rowPadding": 3, "padding": 0, "encode": {"symbols": {"update": {"shape": {"signal": "indexof(['ETc predicha','ETc estimada'], datum.value) >= 0 ? 'M-3.667,-1L1,-1L1,1L-3.667,1Z' : indexof(['ETo predicha','ETo medida'], datum.value) >= 0 ? 'M-2.133,0L-1.033,0M-0.3,0L0.867,0M-1.033,0A0.367,0.367 0 1,1 -0.3,0A0.367,0.367 0 1,1 -1.033,0Z' : 'M-3.267,0L-1.633,0M-0.633,0L0.933,0M-1.633,0L-1.133,-0.5L-0.633,0L-1.133,0.5Z'"}, "fill": {"signal": "datum.value == 'ETc predicha' ? '#ff8000' : datum.value == 'ETc estimada' ? '#0000ff' : 'white'"}, "strokeWidth": {"value": 1.5}, "opacity": {"value": 1}, "fillOpacity": {"value": 1}, "strokeOpacity": {"value": 1}}}}}}}},
          {"mark": {"type": "line", "strokeWidth": 1.5, "point": {"shape": "diamond", "filled": false, "fill": "white", "size": 170, "strokeWidth": 1.5}},
           "encoding": {"x": {"field": "fecha", "type": "temporal"}, "y": {"field": "kci", "type": "quantitative"},
                        "stroke": {"datum": "Kc interpolado", "type": "nominal", "legend": {"title": null, "orient": "none", "legendX": 84, "legendY": 1099, "columns": 3, "direction": "horizontal", "symbolSize": 900, "symbolStrokeWidth": 1.5, "labelFont": "Liberation Sans", "labelFontSize": 30, "labelFontStyle": "italic", "labelColor": "black", "labelLimit": 500, "labelOffset": 3, "columnPadding": 53, "rowPadding": 3, "padding": 0, "encode": {"symbols": {"update": {"shape": {"signal": "indexof(['ETc predicha','ETc estimada'], datum.value) >= 0 ? 'M-3.667,-1L1,-1L1,1L-3.667,1Z' : indexof(['ETo predicha','ETo medida'], datum.value) >= 0 ? 'M-2.133,0L-1.033,0M-0.3,0L0.867,0M-1.033,0A0.367,0.367 0 1,1 -0.3,0A0.367,0.367 0 1,1 -1.033,0Z' : 'M-3.267,0L-1.633,0M-0.633,0L0.933,0M-1.633,0L-1.133,-0.5L-0.633,0L-1.133,0.5Z'"}, "fill": {"signal": "datum.value == 'ETc predicha' ? '#ff8000' : datum.value == 'ETc estimada' ? '#0000ff' : 'white'"}, "strokeWidth": {"value": 1.5}, "opacity": {"value": 1}, "fillOpacity": {"value": 1}, "strokeOpacity": {"value": 1}}}}}}}}
        ]}
      ],
      "resolve": {"scale": {"y": "independent"}}
    }
  ]
}
